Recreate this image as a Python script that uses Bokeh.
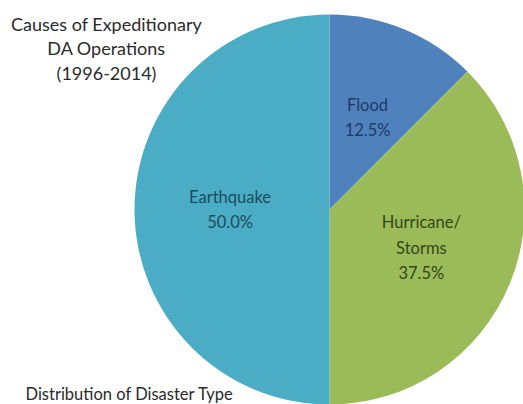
import math
from bokeh.plotting import figure
from bokeh.models import Range1d, ColumnDataSource, Label
from bokeh.core.properties import value
from bokeh.embed import file_html
from bokeh.resources import INLINE

# Disaster types, in the order they are drawn clockwise from 12 o'clock
categories = ["Flood", "Hurricane/\nStorms", "Earthquake"]
shares = [12.5, 37.5, 50.0]
slice_colors = ["#4F81BD", "#9BBB59", "#4BACC6"]
label_colors = ["#1F3A68", "#34461A", "#1A4C5C"]

title_lines = ["Causes of Expeditionary", "DA Operations", "(1996-2014)"]
footer = "Distribution of Disaster Type"

W, H = 523, 404
cx, cy, r = 329, H - 209, 195

p = figure(width=W, height=H, output_backend="svg", toolbar_location=None,
           x_range=Range1d(0, W), y_range=Range1d(0, H),
           x_axis_location=None, y_axis_location=None, min_border=0)
p.grid.visible = False
p.outline_line_color = None
p.background_fill_color = "white"
p.border_fill_color = "white"

total = sum(shares)
starts, ends, lx, ly, texts = [], [], [], [], []
acc = 0.0
for cat, s in zip(categories, shares):
    a0 = math.pi / 2 - 2 * math.pi * acc / total
    acc += s
    a1 = math.pi / 2 - 2 * math.pi * acc / total
    starts.append(a0)
    ends.append(a1)
    mid = (a0 + a1) / 2
    lx.append(cx + 0.51 * r * math.cos(mid))
    ly.append(cy + 0.51 * r * math.sin(mid))
    texts.append(f"{cat}\n{s:.1f}%")

src = ColumnDataSource(dict(start=starts, end=ends, color=slice_colors,
                            lx=lx, ly=ly, text=texts, tcolor=label_colors))

p.wedge(x=cx, y=cy, radius=r, start_angle="start", end_angle="end",
        direction="clock", fill_color="color", line_color=None, source=src)

p.text(x="lx", y="ly", text="text", source=src, text_color="tcolor",
       text_font=value("Lato"), text_font_size="16.5px", text_align="center",
       text_baseline="middle", text_line_height=1.28)

for i, line in enumerate(title_lines):
    p.add_layout(Label(x=106, y=H - 23 - 24.5 * i, text=line,
                       text_font="Lato", text_font_size="18px",
                       text_color="#2b2b2b", text_align="center",
                       text_baseline="middle"))

p.add_layout(Label(x=25, y=H - 393, text=footer, text_font="Lato",
                   text_font_size="16.5px", text_color="#2b2b2b",
                   text_align="left", text_baseline="middle"))

open("out.html", "w").write(file_html(p, INLINE))
